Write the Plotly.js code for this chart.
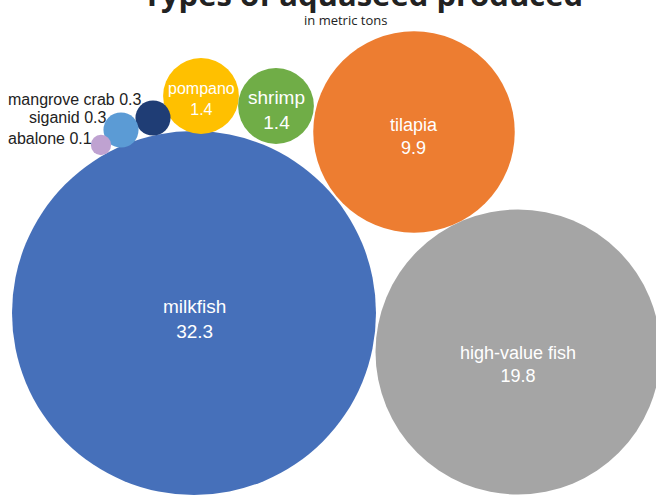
<!DOCTYPE html>
<html>
<head>
<meta charset="utf-8">
<script src="https://cdn.plot.ly/plotly-3.0.1.min.js"></script>
<style>html,body{margin:0;padding:0;background:#fff;}#chart{width:656px;height:495px;}</style>
</head>
<body>
<div id="chart"></div>
<script>
// ---- data ----
const categories = ["milkfish", "high-value fish", "tilapia", "pompano", "shrimp", "mangrove crab", "siganid", "abalone"];
const values = [32.3, 19.8, 9.9, 1.4, 1.4, 0.3, 0.3, 0.1];
const titleText = "Types of aquaseed produced";
const subtitleText = "in metric tons";

// ---- layout (pixel positions of bubble centres) ----
const centerX = [194, 518, 414, 201, 276, 153, 121, 101];
const centerY = [313, 352, 132, 96, 106, 118, 130, 145];
const colors = ["#4670BA", "#A5A5A5", "#ED7D31", "#FFC000", "#70AD47", "#1F3D75", "#5B9BD5", "#BFA2D1"];
const insideLabel = [true, true, true, true, true, false, false, false];
const insideFont = [19, 18, 18, 16, 19, 15, 15, 15];
const labelOffsetY = [6, 12, 4, 3, 4, 0, 0, 0];
const outsideLabelX = [0, 0, 0, 0, 0, 144, 108, 94];
const outsideLabelY = [0, 0, 0, 0, 0, 99, 117, 138];

const maxDiameter = 364;
const sizeref = 2 * values[0] / (maxDiameter * maxDiameter);

const bubbles = {
  type: "scatter",
  mode: "markers",
  x: centerX,
  y: centerY,
  marker: {
    size: values,
    sizemode: "area",
    sizeref: sizeref,
    color: colors,
    opacity: 1,
    line: {width: 0}
  },
  cliponaxis: true,
  hoverinfo: "skip"
};

const annotations = [];
categories.forEach((c, i) => {
  if (insideLabel[i]) {
    annotations.push({
      x: centerX[i], y: centerY[i] + labelOffsetY[i], xref: "x", yref: "y",
      text: c + "<br>" + values[i].toFixed(1),
      showarrow: false, xanchor: "center", yanchor: "middle",
      font: {family: "Liberation Sans, Arial, sans-serif", size: insideFont[i], color: "#ffffff"}
    });
  } else {
    annotations.push({
      x: outsideLabelX[i], y: outsideLabelY[i], xref: "x", yref: "y",
      text: c + " " + values[i].toFixed(1),
      showarrow: false, xanchor: "right", yanchor: "middle",
      font: {family: "Liberation Sans, Arial, sans-serif", size: 16, color: "#222222"}
    });
  }
});
annotations.push({
  x: 0.553, y: 1 - 17 / 495, xref: "paper", yref: "paper",
  text: "<b>" + titleText + "</b>", showarrow: false,
  xanchor: "center", yanchor: "bottom",
  font: {family: "Open Sans, sans-serif", size: 31, color: "#222222"}
});
annotations.push({
  x: 0.526, y: 1 - 20 / 495, xref: "paper", yref: "paper",
  text: subtitleText, showarrow: false,
  xanchor: "center", yanchor: "middle",
  font: {family: "Open Sans, sans-serif", size: 13, color: "#222222"}
});

const layout = {
  width: 656, height: 495,
  margin: {l: 0, r: 0, t: 0, b: 0},
  paper_bgcolor: "#ffffff",
  plot_bgcolor: "#ffffff",
  showlegend: false,
  xaxis: {range: [0, 656], visible: false, fixedrange: true},
  yaxis: {range: [495, 0], visible: false, fixedrange: true},
  annotations: annotations
};

Plotly.newPlot("chart", [bubbles], layout, {displayModeBar: false, staticPlot: true});
</script>
</body>
</html>
